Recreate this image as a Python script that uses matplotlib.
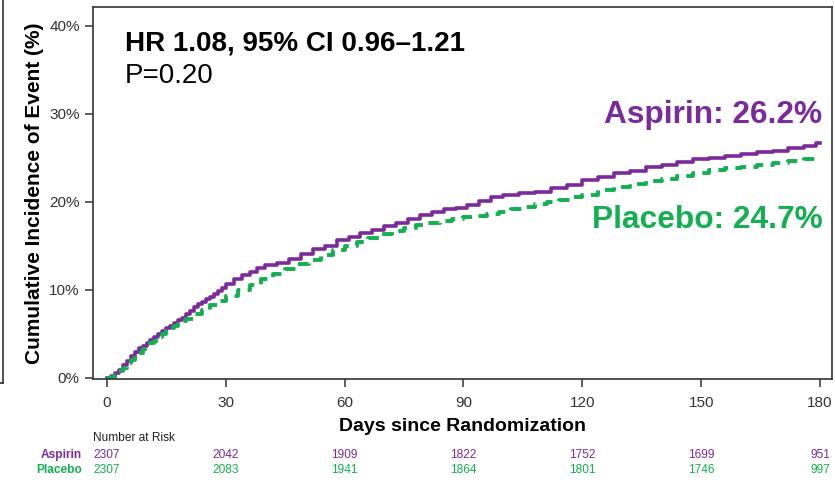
import numpy as np
import matplotlib
matplotlib.use("Agg")
from matplotlib import pyplot as plt
from matplotlib.lines import Line2D
from matplotlib.transforms import blended_transform_factory

plt.rcParams['font.family'] = ['Liberation Sans', 'DejaVu Sans']

# cumulative incidence (%)
aspirin_days = [0, 1, 2, 3, 4, 5, 6, 7, 8, 9, 10, 11, 12, 13, 14, 15, 16, 17, 18, 19, 20,
                21, 22, 23, 24, 25, 26, 27, 28, 29, 30, 32, 34, 36, 38,
                40, 43, 46, 49, 52, 55, 58, 61, 64, 67, 70, 73, 76, 79, 82, 85, 88, 91, 94,
                97, 100, 104, 108, 112, 116, 120, 124, 128, 132, 136, 140, 144, 148, 152,
                156, 160, 164, 168, 172, 176, 179, 180]
aspirin_pct = [0, 0.2, 0.5, 0.9, 1.4, 1.9, 2.4, 2.9, 3.3, 3.6, 3.9, 4.3, 4.6, 5.0, 5.3,
               5.6, 5.9, 6.2, 6.5, 6.8, 7.2, 7.6, 8.0, 8.3, 8.6, 8.9, 9.2, 9.5, 9.8, 10.2,
               10.6, 11.2, 11.6, 12.0, 12.5, 12.8, 13.0, 13.5, 14.0, 14.6, 15.0, 15.6, 16.0,
               16.4, 16.8, 17.2, 17.6, 18.0, 18.5, 18.8, 19.1, 19.3, 19.6, 20.1, 20.5, 20.8,
               21.0, 21.1, 21.5, 21.9, 22.4, 22.8, 23.2, 23.5, 23.9, 24.2, 24.5, 24.8, 25.0,
               25.2, 25.4, 25.6, 25.8, 26.1, 26.3, 26.6, 26.6]

placebo_days = [0, 1, 2, 3, 4, 5, 6, 7, 8, 9, 10, 11, 12, 13, 14, 15, 16, 17, 18, 19, 20,
                22, 24, 26, 28, 30, 33, 36, 39, 42,
                45, 48, 51, 54, 57, 60, 63, 66, 69, 72, 75, 78, 81, 84, 87, 90, 93, 96, 99,
                102, 105, 108, 111, 114, 117, 120, 124, 128, 132, 136, 140, 144, 148, 152,
                156, 160, 164, 168, 172, 176, 180]
placebo_pct = [0, 0.1, 0.3, 0.7, 1.1, 1.6, 2.0, 2.4, 2.8, 3.2, 3.5, 3.9, 4.2, 4.6, 4.9,
               5.3, 5.6, 5.9, 6.1, 6.4, 6.6, 7.2, 7.7, 8.2, 8.7, 9.3,
               9.9, 10.5, 11.2, 11.8, 12.3, 12.9, 13.4, 13.9, 14.5, 14.9, 15.4, 15.9, 16.3,
               16.7, 17.0, 17.3, 17.6, 17.8, 18.0, 18.2, 18.4, 18.6, 18.8, 19.1, 19.4, 19.7,
               19.9, 20.2, 20.5, 20.8, 21.3, 21.7, 22.0, 22.3, 22.6, 22.9, 23.3, 23.6, 23.8,
               23.9, 24.1, 24.4, 24.6, 24.8, 24.9]

risk_days = [0, 30, 60, 90, 120, 150, 180]
aspirin_risk = [2307, 2042, 1909, 1822, 1752, 1699, 951]
placebo_risk = [2307, 2083, 1941, 1864, 1801, 1746, 997]

purple = '#7a2a9c'
green = '#12b050'

fig = plt.figure(figsize=(8.35, 4.83), dpi=100)
ax = fig.add_axes([0.1114, 0.2153, 0.885, 0.770])

ax.plot(aspirin_days, aspirin_pct, drawstyle='steps-post', color=purple, lw=2.6)
ax.plot(placebo_days, placebo_pct, drawstyle='steps-post', color=green, lw=2.8,
        dashes=(3.0, 1.9))

ax.set_xlim(-3.5, 183)
ax.set_ylim(-0.17, 42.1)
ax.set_xticks(risk_days)
ax.set_yticks([0, 10, 20, 30, 40])
ax.set_yticklabels(['0%', '10%', '20%', '30%', '40%'])
ax.tick_params(direction='out', length=6, width=1.1, colors='#333333', labelsize=11)
ax.tick_params(axis='x', pad=6)
for s in ax.spines.values():
    s.set_color('#333333')
    s.set_linewidth(1.2)

ax.set_xlabel('Days since Randomization', fontsize=14, fontweight='bold', labelpad=6)
ax.set_ylabel('Cumulative Incidence of Event (%)', fontsize=15, fontweight='bold',
              labelpad=4)

ax.text(0.043, 0.884, 'HR 1.08, 95% CI 0.96\u20131.21', transform=ax.transAxes,
        fontsize=20, fontweight='bold', va='baseline')
ax.text(0.043, 0.796, 'P=0.20', transform=ax.transAxes, fontsize=20, va='baseline')
ax.text(0.987, 0.688, 'Aspirin: 26.2%', transform=ax.transAxes, fontsize=22.8,
        fontweight='bold', color=purple, ha='right', va='baseline')
ax.text(0.987, 0.405, 'Placebo: 24.7%', transform=ax.transAxes, fontsize=22.8,
        fontweight='bold', color=green, ha='right', va='baseline')

# number at risk table
tr = blended_transform_factory(ax.transData, fig.transFigure)
fig.text(93 / 835, 1 - 438 / 483, 'Number at Risk', fontsize=8.6,
         va='center', color='#222222')
fig.text(82 / 835, 1 - 455 / 483, 'Aspirin', fontsize=8.6, fontweight='bold',
         color=purple, ha='right', va='center')
fig.text(82 / 835, 1 - 470 / 483, 'Placebo', fontsize=8.6, fontweight='bold',
         color=green, ha='right', va='center')
for d, a, p in zip(risk_days, aspirin_risk, placebo_risk):
    ax.text(d, 1 - 455 / 483, str(a), transform=tr, fontsize=8.6,
            color=purple, ha='center', va='center')
    ax.text(d, 1 - 470 / 483, str(p), transform=tr, fontsize=8.6,
            color=green, ha='center', va='center')

# edge of the neighbouring box on the slide
fig.add_artist(Line2D([3 / 835, 3 / 835], [1.0, 1 - 383 / 483], color='#333333', lw=1.2))
fig.add_artist(Line2D([0, 3 / 835], [1 - 383 / 483, 1 - 383 / 483], color='#333333', lw=1.2))

fig.savefig('out.png', dpi=100)
